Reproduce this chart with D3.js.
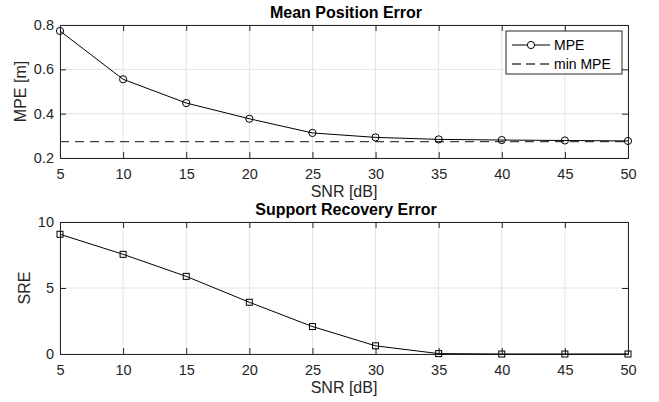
<!DOCTYPE html>
<html>
<head>
<meta charset="utf-8">
<script src="https://cdn.jsdelivr.net/npm/d3@7"></script>
<style>
  body { margin: 0; background: #fff; }
  svg { font-family: 'Liberation Sans', Arial, sans-serif; }
  .tick text { font-size: 14.5px; fill: #262626; }
  .label { font-size: 16px; fill: #262626; }
  .legend { font-size: 14px; fill: #000; }
  .title { font-size: 16px; font-weight: bold; fill: #000; }
</style>
</head>
<body>
<svg width="659" height="402"></svg>
<script>
const snr = [5, 10, 15, 20, 25, 30, 35, 40, 45, 50];
const mpe = [0.773, 0.555, 0.448, 0.377, 0.313, 0.293, 0.284, 0.281, 0.279, 0.277];
const minMpe = 0.2735;
const sre = [9.07, 7.55, 5.88, 3.92, 2.08, 0.62, 0.03, 0, 0, 0];
const xTicks = [5, 10, 15, 20, 25, 30, 35, 40, 45, 50];
const mpeTicks = [0.2, 0.4, 0.6, 0.8];
const sreTicks = [0, 5, 10];

const svg = d3.select('svg');
const left = 60, right = 628;

const x = d3.scaleLinear().domain([5, 50]).range([left, right]);

function panel(top, bottom, yDomain, yTicks, yFmt, title, ylabel, ylabelX) {
  const y = d3.scaleLinear().domain(yDomain).range([bottom, top]);
  const g = svg.append('g');

  // grid
  g.append('g').selectAll('line').data(xTicks).enter().append('line')
    .attr('x1', d => x(d)).attr('x2', d => x(d))
    .attr('y1', top).attr('y2', bottom)
    .attr('stroke', '#e3e3e3').attr('stroke-width', 1);
  g.append('g').selectAll('line').data(yTicks).enter().append('line')
    .attr('x1', left).attr('x2', right)
    .attr('y1', d => y(d)).attr('y2', d => y(d))
    .attr('stroke', '#e3e3e3').attr('stroke-width', 1);

  // axes with inward ticks
  const ax = g.append('g').attr('transform', `translate(0,${bottom})`)
    .call(d3.axisBottom(x).tickValues(xTicks).tickSize(-6).tickPadding(11));
  const axTop = g.append('g').attr('transform', `translate(0,${top})`)
    .call(d3.axisTop(x).tickValues(xTicks).tickSize(-6).tickFormat(''));
  const ay = g.append('g').attr('transform', `translate(${left},0)`)
    .call(d3.axisLeft(y).tickValues(yTicks).tickFormat(yFmt).tickSize(-6).tickPadding(6));
  const ayR = g.append('g').attr('transform', `translate(${right},0)`)
    .call(d3.axisRight(y).tickValues(yTicks).tickSize(-6).tickFormat(''));
  [ax, axTop, ay, ayR].forEach(a => {
    a.select('.domain').attr('stroke', '#262626');
    a.selectAll('.tick line').attr('stroke', '#262626');
  });

  g.append('text').attr('class', 'title')
    .attr('x', (left + right) / 2 + 2).attr('y', top - 7)
    .attr('text-anchor', 'middle').text(title);
  g.append('text').attr('class', 'label')
    .attr('x', (left + right) / 2).attr('y', bottom + 39)
    .attr('text-anchor', 'middle').text('SNR [dB]');
  g.append('text').attr('class', 'label')
    .attr('transform', `translate(${ylabelX},${(top + bottom) / 2}) rotate(-90)`)
    .attr('text-anchor', 'middle').text(ylabel);
  return { g, y };
}

// top: Mean Position Error
const p1 = panel(25, 158, [0.2, 0.8], mpeTicks, d3.format('.1f'), 'Mean Position Error', 'MPE [m]', 26);
p1.g.append('line')
  .attr('x1', left).attr('x2', right)
  .attr('y1', p1.y(minMpe)).attr('y2', p1.y(minMpe))
  .attr('stroke', '#404040').attr('stroke-width', 1.3).attr('stroke-dasharray', '9,6');
p1.g.append('path').datum(snr.map((s, i) => [s, mpe[i]]))
  .attr('fill', 'none').attr('stroke', '#000').attr('stroke-width', 1)
  .attr('d', d3.line().x(d => x(d[0])).y(d => p1.y(d[1])));
p1.g.selectAll('circle.pt').data(snr.map((s, i) => [s, mpe[i]])).enter().append('circle')
  .attr('cx', d => x(d[0])).attr('cy', d => p1.y(d[1])).attr('r', 3.6)
  .attr('fill', 'none').attr('stroke', '#000').attr('stroke-width', 1);

// legend
const lg = p1.g.append('g').attr('transform', 'translate(506,31)');
lg.append('rect').attr('width', 116).attr('height', 43)
  .attr('fill', '#fff').attr('stroke', '#262626').attr('stroke-width', 1);
lg.append('line').attr('x1', 6).attr('x2', 44).attr('y1', 14).attr('y2', 14).attr('stroke', '#000');
lg.append('circle').attr('cx', 25).attr('cy', 14).attr('r', 3.6).attr('fill', '#fff').attr('stroke', '#000');
lg.append('line').attr('x1', 6).attr('x2', 44).attr('y1', 33).attr('y2', 33)
  .attr('stroke', '#404040').attr('stroke-width', 1.3).attr('stroke-dasharray', '9,5');
lg.append('text').attr('class', 'legend').attr('x', 48).attr('y', 19).text('MPE');
lg.append('text').attr('class', 'legend').attr('x', 48).attr('y', 38).text('min MPE');

// bottom: Support Recovery Error
const p2 = panel(222, 354, [0, 10], sreTicks, d3.format('d'), 'Support Recovery Error', 'SRE', 30);
p2.g.append('path').datum(snr.map((s, i) => [s, sre[i]]))
  .attr('fill', 'none').attr('stroke', '#000').attr('stroke-width', 1)
  .attr('d', d3.line().x(d => x(d[0])).y(d => p2.y(d[1])));
p2.g.selectAll('rect.pt').data(snr.map((s, i) => [s, sre[i]])).enter().append('rect')
  .attr('x', d => x(d[0]) - 3).attr('y', d => p2.y(d[1]) - 3)
  .attr('width', 6).attr('height', 6)
  .attr('fill', 'none').attr('stroke', '#000').attr('stroke-width', 1);
</script>
</body>
</html>
